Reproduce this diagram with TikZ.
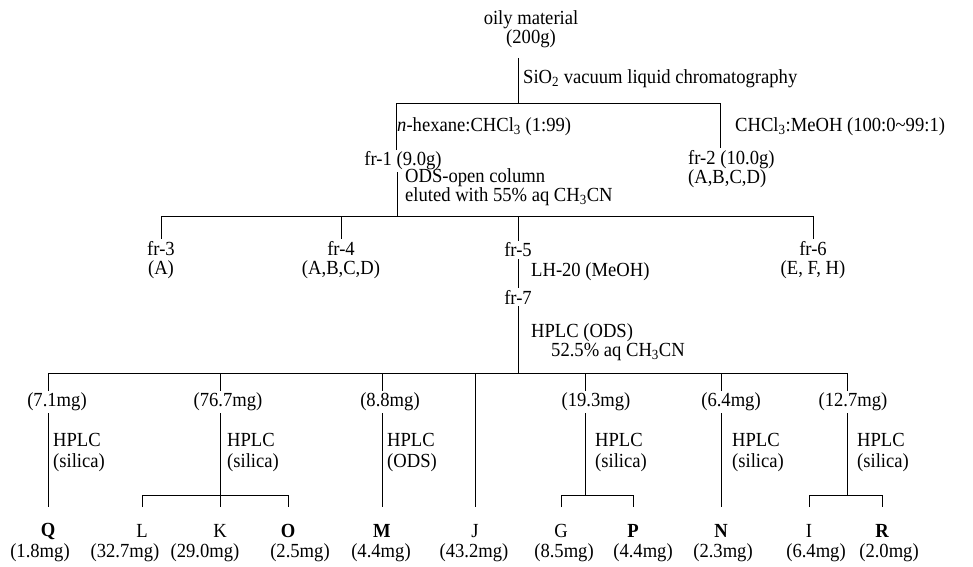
\documentclass[tikz,border=0pt]{standalone}
\usepackage{fontspec}
\setmainfont{Liberation Serif}[FakeStretch=0.93]
\usetikzlibrary{positioning}

\tikzset{
  every node/.style={font=\fontsize{20}{19}\selectfont, inner sep=2pt},
  frac/.style={align=center},
  cond/.style={anchor=west, align=left},
  hplc/.style={cond, font=\fontsize{20}{21}\selectfont},
  cmpd/.style={font=\fontsize{20}{19}\selectfont\bfseries},
  link/.style={line width=1pt},
}

\begin{document}
\begin{tikzpicture}[x=1pt, y=-1pt]
\useasboundingbox (0,0) rectangle (973,566);

% starting material, VLC
\node[frac] (oily) at (531,29) {oily material\\(200g)};
\coordinate (s0) at (518,103);
\coordinate (s1) at (396,103);
\coordinate (s2) at (720,103);
\node[cond] (vlc) at (521,79) {SiO\textsubscript{2} vacuum liquid chromatography};
\node[cond] (hex) at (395,127) {\textit{n}-hexane:CHCl\textsubscript{3} (1:99)};
\node[cond] (chm) at (733,127) {CHCl\textsubscript{3}:MeOH (100:0\textasciitilde 99:1)};
\node (fr1) at (403,161) {fr-1 (9.0g)};
\node[cond] (fr2) at (686,169) {fr-2 (10.0g)\\(A,B,C,D)};

\draw[link] ([yshift=-8pt]oily.south -| s0) -- (s0);
\draw[link] (s1) -- (s2);
\draw[link] (s1) -- (s1 |- fr1.north);
\draw[link] (s2) -- (s2 |- fr2.north);

% ODS open column
\node[cond] (odsc) at (403,187) {ODS-open column\\eluted with 55\% aq CH\textsubscript{3}CN};
\coordinate (t0) at (397,216);
\coordinate (t3) at (161,216);
\coordinate (t6) at (813,216);
\node[frac] (fr3) at (161,260) {fr-3\\(A)};
\node[frac] (fr4) at (341,260) {fr-4\\(A,B,C,D)};
\node (fr5) at (518,250) {fr-5};
\node[frac] (fr6) at (813,260) {fr-6\\(E, F, H)};

\draw[link] (fr1.south -| t0) -- (t0);
\draw[link] (t3) -- (t6);
\draw[link] (t3) -- (fr3.north);
\draw[link] (fr4.north |- t3) -- (fr4.north);
\draw[link] (fr5.north |- t3) -- (fr5.north);
\draw[link] (t6) -- (fr6.north);

% LH-20, then HPLC (ODS)
\node[cond] (lh20) at (529,272) {LH-20 (MeOH)};
\node (fr7) at (518,297) {fr-7};
\node[cond] (hods) at (529,342) {HPLC (ODS)\\\hspace*{20pt}52.5\% aq CH\textsubscript{3}CN};
\coordinate (u0) at (518,373);
\coordinate (u1) at (48,373);
\coordinate (u2) at (220,373);
\coordinate (u3) at (382,373);
\coordinate (u4) at (475,373);
\coordinate (u5) at (585,373);
\coordinate (u6) at (721,373);
\coordinate (u7) at (847,373);

\draw[link] (fr5) -- (fr7);
\draw[link] (fr7) -- (u0);
\draw[link] (u1) -- (u7);

% HPLC fractions
\node (m1) at (57,402) {(7.1mg)};
\node (m2) at (228,402) {(76.7mg)};
\node (m3) at (390,402) {(8.8mg)};
\node (m5) at (596,402) {(19.3mg)};
\node (m6) at (731,402) {(6.4mg)};
\node (m7) at (853,402) {(12.7mg)};

\node[hplc] (h1) at (51,452) {HPLC\\(silica)};
\node[hplc] (h2) at (225,452) {HPLC\\(silica)};
\node[hplc] (h3) at (385,452) {HPLC\\(ODS)};
\node[hplc] (h5) at (593,452) {HPLC\\(silica)};
\node[hplc] (h6) at (730,452) {HPLC\\(silica)};
\node[hplc] (h7) at (855,452) {HPLC\\(silica)};

% compounds
\coordinate (br) at (0,495);
\coordinate (bot) at (0,507);
\node[cmpd] (Q) at (48,531) {Q};
\node (L) at (142,531) {L};
\node (K) at (220,531) {K};
\node[cmpd] (O) at (288,531) {O};
\node[cmpd] (M) at (382,531) {M};
\node (J) at (475,531) {J};
\node (G) at (561,531) {G};
\node[cmpd] (P) at (633,531) {P};
\node[cmpd] (N) at (721,531) {N};
\node (I) at (809,531) {I};
\node[cmpd] (R) at (882,531) {R};

\node (Qm) at (40,553) {(1.8mg)};
\node (Lm) at (125,553) {(32.7mg)};
\node (Km) at (205,553) {(29.0mg)};
\node (Om) at (300,553) {(2.5mg)};
\node (Mm) at (381,553) {(4.4mg)};
\node (Jm) at (474,553) {(43.2mg)};
\node (Gm) at (564,553) {(8.5mg)};
\node (Pm) at (643,553) {(4.4mg)};
\node (Nm) at (723,553) {(2.3mg)};
\node (Im) at (816,553) {(6.4mg)};
\node (Rm) at (889,553) {(2.0mg)};

\draw[link] (u1) -- (u1 |- m1.north);
\draw[link] (m1.south -| u1) -- (Q |- bot);
\draw[link] (u2) -- (u2 |- m2.north);
\draw[link] (m2.south -| u2) -- (u2 |- br);
\draw[link] (L |- bot) -- (L |- br) -- (O |- br) -- (O |- bot);
\draw[link] (K |- br) -- (K |- bot);
\draw[link] (u3) -- (u3 |- m3.north);
\draw[link] (m3.south -| u3) -- (M |- bot);
\draw[link] (u4) -- (J |- bot);
\draw[link] (u5) -- (u5 |- m5.north);
\draw[link] (m5.south -| u5) -- (u5 |- br);
\draw[link] (G |- bot) -- (G |- br) -- (P |- br) -- (P |- bot);
\draw[link] (u6) -- (u6 |- m6.north);
\draw[link] (m6.south -| u6) -- (N |- bot);
\draw[link] (u7) -- (u7 |- m7.north);
\draw[link] (m7.south -| u7) -- (u7 |- br);
\draw[link] (I |- bot) -- (I |- br) -- (R |- br) -- (R |- bot);
\end{tikzpicture}
\end{document}
